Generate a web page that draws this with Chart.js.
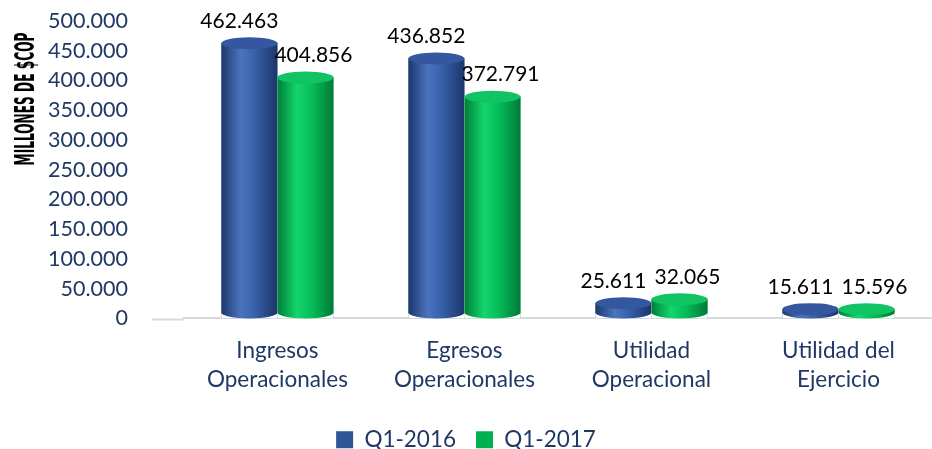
<!DOCTYPE html>
<html>
<head>
<meta charset="utf-8">
<script src="https://cdn.jsdelivr.net/npm/chart.js@4"></script>
<style>
  html, body { margin: 0; padding: 0; background: #ffffff; }
  #wrap { width: 932px; height: 449px; }
</style>
</head>
<body>
<div id="wrap"><canvas id="chart" width="932" height="449"></canvas></div>
<script>
// categories and series values (millones de $COP)
const categories = [
    ['Ingresos', 'Operacionales'],
    ['Egresos', 'Operacionales'],
    ['Utilidad', 'Operacional'],
    ['Utilidad del', 'Ejercicio']
];
const seriesNames = ['Q1-2016', 'Q1-2017'];
const q1_2016 = [462463, 436852, 25611, 15611];
const q1_2017 = [404856, 372791, 32065, 15596];
const yTicks = [0, 50000, 100000, 150000, 200000, 250000, 300000, 350000, 400000, 450000, 500000];

const blue = '#2F5597';
const green = '#00B050';
const navy = '#1F3864';
const fontName = 'Lato, "Open Sans", sans-serif';

function fmt(v) {
    return String(v).replace(/\B(?=(\d{3})+(?!\d))/g, '.');
}

// gives each bar a rounded cylinder look
const cylinderPlugin = {
    id: 'cylinder',
    afterDatasetsDraw(chart) {
        const ctx = chart.ctx;
        const shades = [
            ['#1C386C', '#4B74BF', '#3660A8', '#1B356A', '#3557A0'],
            ['#007E38', '#14D66C', '#06BE5A', '#007A36', '#10C463']
        ];
        chart.data.datasets.forEach((ds, i) => {
            const meta = chart.getDatasetMeta(i);
            const s = shades[i];
            meta.data.forEach(bar => {
                const left = bar.x - bar.width / 2;
                const right = bar.x + bar.width / 2;
                const rx = bar.width / 2;
                const ry = 6;
                const g = ctx.createLinearGradient(left, 0, right, 0);
                g.addColorStop(0, s[0]);
                g.addColorStop(0.35, s[1]);
                g.addColorStop(0.6, s[2]);
                g.addColorStop(1, s[3]);
                ctx.save();
                ctx.fillStyle = '#ffffff';
                ctx.fillRect(left, bar.y, bar.width, bar.base - bar.y);
                ctx.fillStyle = g;
                ctx.beginPath();
                ctx.moveTo(left, bar.y);
                ctx.lineTo(left, bar.base - ry);
                ctx.ellipse(bar.x, bar.base - ry, rx, ry, 0, Math.PI, 0, true);
                ctx.lineTo(right, bar.y);
                ctx.closePath();
                ctx.fill();
                // top face
                ctx.fillStyle = s[4];
                ctx.beginPath();
                ctx.ellipse(bar.x, bar.y, rx, ry, 0, 0, Math.PI * 2);
                ctx.fill();
                ctx.restore();
            });
        });
    }
};

// value labels above the bars
const labelPlugin = {
    id: 'valueLabels',
    afterDatasetsDraw(chart) {
        const ctx = chart.ctx;
        const shift = [-10, 8];
        ctx.save();
        ctx.font = '21px ' + fontName;
        ctx.fillStyle = '#000000';
        ctx.textAlign = 'center';
        ctx.textBaseline = 'middle';
        chart.data.datasets.forEach((ds, i) => {
            const meta = chart.getDatasetMeta(i);
            meta.data.forEach((bar, j) => {
                ctx.fillText(fmt(ds.data[j]), bar.x + shift[i], bar.y - 22);
            });
        });
        ctx.restore();
    }
};

// condensed vertical axis title + axis line running under the tick labels
const axisTitlePlugin = {
    id: 'axisTitle',
    afterDraw(chart) {
        const ctx = chart.ctx;
        const area = chart.chartArea;
        ctx.save();
        ctx.strokeStyle = '#D9D9D9';
        ctx.lineWidth = 2;
        ctx.beginPath();
        ctx.moveTo(area.left - 32, area.bottom + 1);
        ctx.lineTo(area.left, area.bottom + 1);
        ctx.stroke();

        ctx.translate(27, 99);
        ctx.rotate(-Math.PI / 2);
        ctx.scale(0.52, 1);
        ctx.font = 'bold 26px "DejaVu Sans Condensed", "DejaVu Sans", sans-serif';
        ctx.fillStyle = '#000000';
        ctx.textAlign = 'center';
        ctx.textBaseline = 'middle';
        ctx.fillText('MILLONES DE $COP', 0, 0);
        ctx.restore();
    }
};

whenReady(() => {
    const ctx = document.getElementById('chart');
    new Chart(ctx, {
        type: 'bar',
        data: {
            labels: categories,
            datasets: [
                { label: seriesNames[0], data: q1_2016, backgroundColor: blue },
                { label: seriesNames[1], data: q1_2017, backgroundColor: green }
            ]
        },
        options: {
            responsive: false,
            animation: false,
            devicePixelRatio: 1,
            datasets: {
                bar: { categoryPercentage: 0.6, barPercentage: 1.0 }
            },
            layout: { padding: { left: 0, right: 0, top: 21, bottom: -12 } },
            plugins: {
                legend: {
                    position: 'bottom',
                    labels: {
                        boxWidth: 17,
                        boxHeight: 17,
                        padding: 20,
                        color: navy,
                        font: { family: fontName, size: 22.5 }
                    }
                },
                tooltip: { enabled: false }
            },
            scales: {
                x: {
                    grid: { display: false },
                    border: { color: '#D9D9D9', width: 2 },
                    afterFit(axis) {
                        axis.height += 4;
                    },
                    ticks: {
                        color: navy,
                        padding: 10,
                        font: { family: fontName, size: 22.5, lineHeight: 1.29 },
                        maxRotation: 0
                    }
                },
                y: {
                    min: 0,
                    max: 500000,
                    afterBuildTicks(axis) {
                        axis.ticks = yTicks.map(v => ({ value: v }));
                    },
                    afterFit(axis) {
                        axis.paddingTop = 13;
                        axis.paddingBottom = 13;
                    },
                    grid: { display: false },
                    border: { display: false },
                    ticks: {
                        autoSkip: false,
                        color: navy,
                        padding: 48,
                        font: { family: fontName, size: 21.5 },
                        callback: v => fmt(v)
                    }
                }
            }
        },
        plugins: [cylinderPlugin, labelPlugin, axisTitlePlugin]
    });
});

function whenReady(action) {
    if (document.readyState === 'loading') {
        document.addEventListener('DOMContentLoaded', action);
    } else {
        action();
    }
}
</script>
</body>
</html>
